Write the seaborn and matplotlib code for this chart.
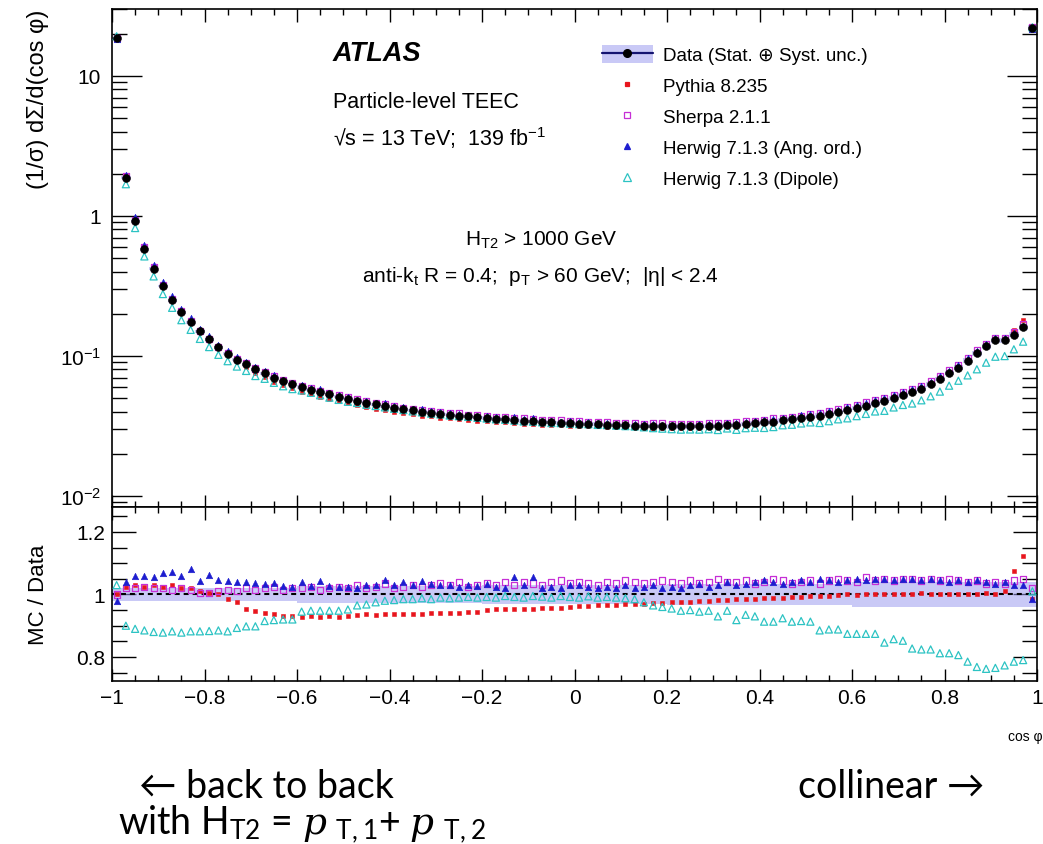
import numpy as np
import pandas as pd
import matplotlib
matplotlib.use("Agg")
import matplotlib.pyplot as plt
import seaborn as sns
from matplotlib.lines import Line2D
from matplotlib.patches import Patch
from matplotlib.ticker import (MultipleLocator, LogLocator, FixedLocator,
                               FuncFormatter, NullFormatter)

# ---------------------------------------------------------------------------
# TEEC distribution, H_T2 > 1000 GeV, 100 equal bins in cos(phi)
# ---------------------------------------------------------------------------
bin_edges = np.linspace(-1.0, 1.0, 101)
cos_phi = 0.5 * (bin_edges[:-1] + bin_edges[1:])

data_teec = [
    18.6, 1.87, 0.92, 0.58, 0.42, 0.315, 0.25, 0.205, 0.174, 0.150,
    0.131, 0.115, 0.104, 0.094, 0.087, 0.080, 0.075, 0.070, 0.066, 0.063,
    0.0600, 0.0575, 0.0552, 0.0531, 0.0512, 0.0494, 0.0478, 0.0463, 0.0450, 0.0438,
    0.0427, 0.0417, 0.0408, 0.0400, 0.0393, 0.0386, 0.0380, 0.0375, 0.0370, 0.0365,
    0.0360, 0.0356, 0.0352, 0.0348, 0.0344, 0.0341, 0.0338, 0.0335, 0.0333, 0.0331,
    0.0329, 0.0327, 0.0325, 0.0323, 0.0321, 0.0319, 0.0318, 0.0317, 0.0316, 0.0315,
    0.0314, 0.0314, 0.0314, 0.0315, 0.0316, 0.0318, 0.0320, 0.0323, 0.0326, 0.0330,
    0.0335, 0.0340, 0.0346, 0.0353, 0.0360, 0.0367, 0.0375, 0.0385, 0.0397, 0.0410,
    0.0425, 0.0441, 0.0459, 0.0479, 0.0500, 0.0524, 0.0553, 0.0585, 0.0625, 0.0685,
    0.0755, 0.0825, 0.0925, 0.1045, 0.1175, 0.1290, 0.1290, 0.1420, 0.1600, 22.0,
]

# relative (stat. + syst.) uncertainty of the data
data_unc = [
    0.022, 0.022, 0.022, 0.022, 0.022, 0.022, 0.022, 0.022, 0.022, 0.022,
    0.022, 0.022, 0.022, 0.022, 0.022, 0.022, 0.022, 0.022, 0.022, 0.022,
    0.026, 0.026, 0.026, 0.026, 0.026, 0.026, 0.026, 0.026, 0.026, 0.026,
    0.026, 0.026, 0.026, 0.026, 0.026, 0.026, 0.026, 0.026, 0.026, 0.026,
    0.030, 0.030, 0.030, 0.030, 0.030, 0.030, 0.030, 0.030, 0.030, 0.030,
    0.030, 0.030, 0.030, 0.030, 0.030, 0.030, 0.030, 0.030, 0.030, 0.030,
    0.035, 0.035, 0.035, 0.035, 0.035, 0.035, 0.035, 0.035, 0.035, 0.035,
    0.035, 0.035, 0.035, 0.035, 0.035, 0.035, 0.035, 0.035, 0.035, 0.035,
    0.040, 0.040, 0.040, 0.040, 0.040, 0.040, 0.040, 0.040, 0.040, 0.040,
    0.040, 0.040, 0.040, 0.040, 0.040, 0.040, 0.040, 0.040, 0.040, 0.040,
]

# MC / Data ratios
ratio_pythia = [
    1.000, 1.025, 1.030, 1.025, 1.030, 1.025, 1.030, 1.020, 1.020, 1.010,
    1.005, 1.000, 0.985, 0.975, 0.955, 0.948, 0.940, 0.936, 0.932, 0.930,
    0.928, 0.930, 0.927, 0.930, 0.928, 0.930, 0.935, 0.936, 0.935, 0.937,
    0.938, 0.937, 0.939, 0.938, 0.940, 0.940, 0.942, 0.941, 0.943, 0.945,
    0.950, 0.952, 0.953, 0.953, 0.955, 0.955, 0.956, 0.958, 0.958, 0.960,
    0.962, 0.963, 0.965, 0.966, 0.966, 0.968, 0.970, 0.970, 0.972, 0.974,
    0.975, 0.976, 0.977, 0.978, 0.980, 0.981, 0.982, 0.984, 0.985, 0.986,
    0.988, 0.990, 0.990, 0.992, 0.993, 0.994, 0.995, 0.996, 0.997, 1.000,
    0.998, 1.000, 1.002, 1.000, 1.003, 1.000, 1.002, 1.004, 1.000, 1.003,
    1.000, 1.002, 1.000, 1.000, 1.005, 1.000, 1.010, 1.075, 1.122, 0.985,
]
ratio_sherpa = [
    1.000, 1.020, 1.020, 1.025, 1.020, 1.020, 1.015, 1.020, 1.015, 1.005,
    1.005, 1.010, 1.015, 1.010, 1.020, 1.015, 1.020, 1.025, 1.015, 1.020,
    1.020, 1.025, 1.015, 1.020, 1.025, 1.020, 1.030, 1.020, 1.025, 1.035,
    1.020, 1.025, 1.030, 1.025, 1.030, 1.035, 1.030, 1.040, 1.025, 1.030,
    1.035, 1.030, 1.040, 1.030, 1.040, 1.035, 1.030, 1.040, 1.045, 1.035,
    1.040, 1.035, 1.030, 1.040, 1.035, 1.045, 1.040, 1.035, 1.040, 1.045,
    1.040, 1.035, 1.045, 1.035, 1.040, 1.050, 1.040, 1.040, 1.045, 1.035,
    1.040, 1.050, 1.045, 1.035, 1.040, 1.045, 1.035, 1.045, 1.050, 1.045,
    1.040, 1.055, 1.045, 1.050, 1.045, 1.050, 1.050, 1.045, 1.050, 1.045,
    1.050, 1.045, 1.040, 1.045, 1.035, 1.040, 1.035, 1.045, 1.050, 1.020,
]
ratio_herwig_ang = [
    0.980, 1.040, 1.060, 1.060, 1.057, 1.068, 1.073, 1.060, 1.080, 1.044,
    1.063, 1.046, 1.044, 1.039, 1.040, 1.037, 1.034, 1.037, 1.028, 1.025,
    1.039, 1.026, 1.044, 1.026, 1.025, 1.025, 1.020, 1.030, 1.030, 1.046,
    1.030, 1.039, 1.030, 1.044, 1.035, 1.030, 1.030, 1.025, 1.030, 1.028,
    1.035, 1.025, 1.020, 1.055, 1.030, 1.055, 1.020, 1.025, 1.020, 1.030,
    1.030, 1.025, 1.020, 1.025, 1.020, 1.030, 1.020, 1.025, 1.030, 1.020,
    1.025, 1.020, 1.030, 1.035, 1.025, 1.030, 1.040, 1.030, 1.035, 1.040,
    1.045, 1.040, 1.035, 1.040, 1.045, 1.040, 1.050, 1.045, 1.040, 1.045,
    1.050, 1.045, 1.050, 1.050, 1.045, 1.050, 1.050, 1.045, 1.050, 1.045,
    1.040, 1.045, 1.040, 1.045, 1.040, 1.035, 1.040, 1.030, 1.030, 0.985,
]
ratio_herwig_dip = [
    1.030, 0.900, 0.890, 0.885, 0.880, 0.878, 0.882, 0.878, 0.882, 0.882,
    0.883, 0.885, 0.882, 0.893, 0.898, 0.898, 0.915, 0.918, 0.920, 0.920,
    0.945, 0.948, 0.948, 0.948, 0.948, 0.952, 0.965, 0.968, 0.975, 0.980,
    0.982, 0.985, 0.985, 0.988, 0.985, 0.990, 0.988, 0.990, 0.992, 0.990,
    0.992, 0.990, 0.995, 0.992, 0.990, 0.995, 0.993, 0.990, 0.995, 0.992,
    0.990, 0.994, 0.990, 0.992, 0.990, 0.988, 0.985, 0.975, 0.965, 0.960,
    0.955, 0.948, 0.950, 0.945, 0.948, 0.930, 0.948, 0.918, 0.935, 0.930,
    0.913, 0.913, 0.924, 0.913, 0.915, 0.913, 0.885, 0.888, 0.888, 0.874,
    0.874, 0.874, 0.874, 0.846, 0.857, 0.852, 0.827, 0.824, 0.824, 0.812,
    0.812, 0.806, 0.785, 0.768, 0.762, 0.765, 0.773, 0.785, 0.790, 1.010,
]

model_names = ["Pythia 8.235", "Sherpa 2.1.1",
               "Herwig 7.1.3 (Ang. ord.)", "Herwig 7.1.3 (Dipole)"]
model_ratios = [ratio_pythia, ratio_sherpa, ratio_herwig_ang, ratio_herwig_dip]

# marker, size, filled, colour
model_styles = {
    "Pythia 8.235": ("s", 11, True, "#e8151d"),
    "Sherpa 2.1.1": ("s", 20, False, "#c62fd6"),
    "Herwig 7.1.3 (Ang. ord.)": ("^", 22, True, "#1d1dcf"),
    "Herwig 7.1.3 (Dipole)": ("^", 26, False, "#2cc3c3"),
}
BAND = "#9d9df0"
DATA_LINE = "#141470"

# ---------------------------------------------------------------------------
data_arr = np.array(data_teec)
unc_arr = np.array(data_unc)
data_df = pd.DataFrame({"cos_phi": cos_phi, "teec": data_arr})
frames = []
for name, r in zip(model_names, model_ratios):
    r = np.array(r)
    frames.append(pd.DataFrame({"model": name, "cos_phi": cos_phi,
                                "ratio": r, "teec": r * data_arr}))
mc_df = pd.concat(frames, ignore_index=True)

sns.set_theme(style="ticks")
plt.rcParams["font.family"] = ["Liberation Sans", "DejaVu Sans"]
plt.rcParams["mathtext.fontset"] = "custom"
plt.rcParams["mathtext.rm"] = "Lato"
plt.rcParams["mathtext.it"] = "DejaVu Serif:italic"
plt.rcParams["mathtext.sf"] = "Liberation Sans"
plt.rcParams["mathtext.bf"] = "Liberation Sans:bold"
plt.rcParams["axes.edgecolor"] = "black"
plt.rcParams["xtick.color"] = "black"
plt.rcParams["ytick.color"] = "black"
plt.rcParams["text.color"] = "black"

W, H = 1043, 845
fig = plt.figure(figsize=(W / 100, H / 100), dpi=100)


def fx(px):
    return px / W


def fy(py):
    return 1 - py / H


ax = fig.add_axes([fx(112), fy(508), fx(1037) - fx(112), fy(10) - fy(508)])
rax = fig.add_axes([fx(112), fy(682), fx(1037) - fx(112), fy(508) - fy(682)])


def draw_models(axis, ycol):
    for name in model_names:
        marker, size, filled, col = model_styles[name]
        sub = mc_df[mc_df["model"] == name]
        if filled:
            sns.scatterplot(data=sub, x="cos_phi", y=ycol, ax=axis, marker=marker,
                            s=size, color=col, edgecolor=col, linewidth=0.4,
                            legend=False, zorder=3)
        else:
            sns.scatterplot(data=sub, x="cos_phi", y=ycol, ax=axis, marker=marker,
                            s=size, facecolors="none", edgecolor=col, linewidth=0.9,
                            legend=False, zorder=3)


# ---- upper panel ----------------------------------------------------------
lo = data_arr * (1 - unc_arr)
hi = data_arr * (1 + unc_arr)
ax.fill_between(bin_edges, np.append(lo, lo[-1]), np.append(hi, hi[-1]),
                step="post", color=BAND, alpha=0.55, lw=0, zorder=1)
draw_models(ax, "teec")
sns.scatterplot(data=data_df, x="cos_phi", y="teec", ax=ax, marker="o", s=32,
                color="black", edgecolor="black", linewidth=0.4, legend=False,
                zorder=5)
ax.set_yscale("log")
ax.set_ylim(0.00834, 30)

# ---- ratio panel ----------------------------------------------------------
rlo = 1 - unc_arr
rhi = 1 + unc_arr
rax.fill_between(bin_edges, np.append(rlo, rlo[-1]), np.append(rhi, rhi[-1]),
                 step="post", color=BAND, alpha=0.55, lw=0, zorder=1)
rax.axhline(1.0, color="black", lw=1.5, ls=(0, (2.4, 1.9)), zorder=2)
draw_models(rax, "ratio")
rax.set_ylim(0.723, 1.28)

# ---- axes styling ---------------------------------------------------------
for a in (ax, rax):
    a.set_xlim(-1, 1)
    a.set_xlabel("")
    a.set_ylabel("")
    a.xaxis.set_major_locator(MultipleLocator(0.2))
    a.xaxis.set_minor_locator(MultipleLocator(0.05))
    a.tick_params(which="both", direction="in", top=True, right=True,
                  width=1.0, colors="black")
    a.tick_params(axis="x", which="major", length=9)
    a.tick_params(axis="x", which="minor", length=4.5)
    for sp in a.spines.values():
        sp.set_linewidth(1.2)
        sp.set_color("black")


def log_label(v, pos):
    e = int(round(np.log10(v)))
    if e == 1:
        return "10"
    if e == 0:
        return "1"
    return r"10$^{\mathsf{%d}}$" % e


ax.yaxis.set_major_locator(LogLocator(base=10, numticks=10))
ax.yaxis.set_minor_locator(LogLocator(base=10, subs=np.arange(2, 10), numticks=40))
ax.yaxis.set_major_formatter(FuncFormatter(log_label))
ax.yaxis.set_minor_formatter(NullFormatter())
ax.tick_params(axis="y", which="major", length=21.6, labelsize=15, pad=8)
ax.tick_params(axis="y", which="minor", length=10.8)
ax.tick_params(axis="x", labelbottom=False)

rax.yaxis.set_major_locator(FixedLocator([0.8, 1.0, 1.2]))
rax.yaxis.set_minor_locator(MultipleLocator(0.05))
rax.yaxis.set_major_formatter(FuncFormatter(lambda v, p: f"{round(v, 2) + 0.0:g}"))
rax.tick_params(axis="y", which="major", length=17, labelsize=15, pad=5)
rax.tick_params(axis="y", which="minor", length=11)
rax.xaxis.set_major_formatter(
    FuncFormatter(lambda v, p: f"{round(v, 2) + 0.0:g}".replace("-", "\u2212")))
rax.tick_params(axis="x", labelsize=15, pad=5)

# ---- labels ---------------------------------------------------------------
fig.text(fx(38), fy(10), "(1/σ) dΣ/d(cos φ)", rotation=90, ha="center",
         va="top", fontsize=17)
fig.text(fx(38), fy(595), "MC / Data", rotation=90, ha="center", va="center",
         fontsize=16)
fig.text(fx(1025), fy(737), "cos φ", ha="center", va="center", fontsize=10)

fig.text(fx(333), fy(54), "ATLAS", fontsize=19.5, fontweight="bold",
         fontstyle="italic", ha="left", va="center")
fig.text(fx(333), fy(103), "Particle-level TEEC", fontsize=15.5, ha="left",
         va="center")
fig.text(fx(333), fy(138), r"√s = 13 TeV;  139 fb$^{\mathsf{-1}}$", fontsize=15.5,
         ha="left", va="center")
fig.text(fx(541), fy(240), r"H$_{\mathsf{T2}}$ > 1000 GeV", fontsize=15,
         ha="center", va="center")
fig.text(fx(540), fy(276),
         r"anti-k$_{\mathsf{t}}$ R = 0.4;  p$_{\mathsf{T}}$ > 60 GeV;  |η| < 2.4",
         fontsize=15, ha="center", va="center")

# ---- legend ---------------------------------------------------------------
handles = [(Patch(facecolor=BAND, alpha=0.55, edgecolor="none"),
            Line2D([], [], color=DATA_LINE, lw=1.6, marker="o", ms=5.5,
                   mfc="black", mec="black"))]
for name in model_names:
    marker, size, filled, col = model_styles[name]
    handles.append(Line2D([], [], ls="none", marker=marker, ms=np.sqrt(size),
                          mfc=col if filled else "none", mec=col, mew=0.9))
labels = ["Data (Stat. ⊕ Syst. unc.)"] + model_names
fig.legend(handles, labels, loc="upper left",
           bbox_to_anchor=(fx(602), fy(46)), frameon=False, fontsize=13.5,
           handlelength=2.7, handleheight=1.1, handletextpad=0.55,
           labelspacing=0.62, borderpad=0, borderaxespad=0)

# ---- annotations below the plot -------------------------------------------
slide_font = ["Lato", "DejaVu Sans"]
fig.text(fx(266), fy(798), "← back to back", family=slide_font, fontsize=27,
         ha="center", va="baseline")
fig.text(fx(891), fy(798), "collinear →", family=slide_font, fontsize=27,
         ha="center", va="baseline")
fig.text(fx(118), fy(834),
         r"with H$_{\mathrm{T2}}$ = $\mathit{p}$ $_{\mathrm{T,1}}$+ $\mathit{p}$ $_{\mathrm{T,2}}$",
         family=slide_font, fontsize=27, ha="left", va="baseline")

fig.savefig("out.png", dpi=100)
